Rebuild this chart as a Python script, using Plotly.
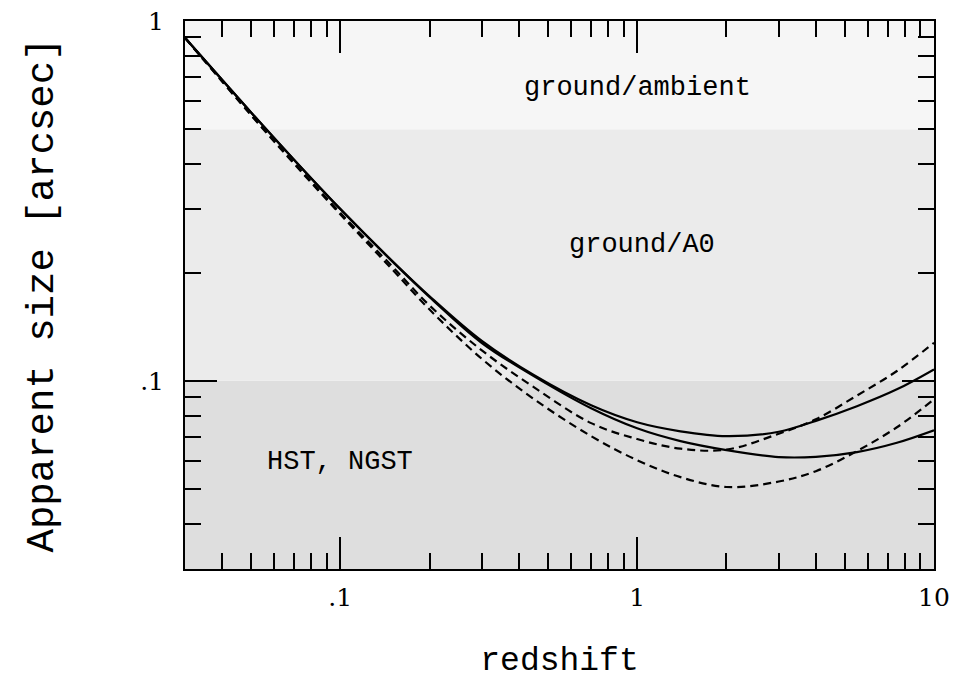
import numpy as np
import plotly.graph_objects as go

# ---------------- data ----------------
redshift = [0.03, 0.05, 0.07, 0.1, 0.15, 0.2, 0.3, 0.45, 0.7, 1.0,
            1.4, 2.0, 3.0, 4.0, 5.5, 7.5, 10.0]
solid_upper = [0.898, 0.558, 0.411, 0.3007, 0.2150, 0.1718, 0.1291, 0.1036, 0.0855,
               0.0767, 0.0724, 0.0702, 0.0722, 0.0774, 0.0850, 0.0947, 0.1076]
solid_lower = [0.898, 0.558, 0.411, 0.3001, 0.2144, 0.1709, 0.1274, 0.1029, 0.0839,
               0.0738, 0.0680, 0.0642, 0.0614, 0.0615, 0.0634, 0.0673, 0.0729]
dashed_upper = [0.898, 0.550, 0.4033, 0.2931, 0.2077, 0.1619, 0.1215, 0.0959, 0.0763,
                0.0689, 0.0648, 0.0644, 0.0713, 0.0782, 0.0910, 0.1065, 0.1276]
dashed_lower = [0.898, 0.548, 0.4007, 0.2903, 0.2037, 0.1578, 0.1151, 0.0889, 0.0702,
                0.0602, 0.0540, 0.0507, 0.0525, 0.0561, 0.0638, 0.0743, 0.0889]

band_edges = [0.03, 0.1, 0.5, 1.0]          # arcsec
band_labels = ["HST, NGST", "ground/A0", "ground/ambient"]
x_range = [0.03, 10.0]
x_tick_vals = [0.1, 1, 10]
x_tick_text = [".1", "1", "10"]
y_tick_vals = [0.1, 1]
y_tick_text = [".1", "1"]
x_minor = [0.04, 0.05, 0.06, 0.07, 0.08, 0.09, 0.2, 0.3, 0.4, 0.5, 0.6, 0.7,
           0.8, 0.9, 2, 3, 4, 5, 6, 7, 8, 9]
y_minor = [0.04, 0.05, 0.06, 0.07, 0.08, 0.09, 0.2, 0.3, 0.4, 0.5, 0.6, 0.7,
           0.8, 0.9]

# ---------------- figure ----------------
fig = go.Figure()

band_colors = ["#dedede", "#ebebeb", "#f6f6f6"]
for i in range(3):
    lo, hi = band_edges[i], band_edges[i + 1]
    fig.add_trace(go.Scatter(
        x=[x_range[0], x_range[1], x_range[1], x_range[0], x_range[0]],
        y=[lo, lo, hi, hi, lo],
        fill="toself", fillcolor=band_colors[i], mode="lines",
        line=dict(width=0, color=band_colors[i]),
        hoverinfo="skip", showlegend=False))

for ys, dash in [(solid_upper, "solid"), (solid_lower, "solid"),
                 (dashed_upper, "8px,5px"), (dashed_lower, "8px,5px")]:
    fig.add_trace(go.Scatter(
        x=redshift, y=ys, mode="lines",
        line=dict(color="black", width=2.2, dash=dash, shape="spline", smoothing=1.0),
        showlegend=False))

label_pos = [(0.207, 0.196), (0.610, 0.591), (0.6035, 0.877)]
for text, (px, py) in zip(band_labels, label_pos):
    fig.add_annotation(x=px, y=py, xref="paper", yref="paper", text=text,
                       showarrow=False, xanchor="center", yanchor="middle",
                       font=dict(family="Liberation Mono", size=27, color="black"))

axis_common = dict(
    type="log", showgrid=False, zeroline=False,
    showline=True, linecolor="black", linewidth=2, mirror="allticks",
    ticks="inside", ticklen=32, tickwidth=2, tickcolor="black",
    tickfont=dict(family="DejaVu Serif", size=25, color="black"),
)

fig.update_xaxes(
    **axis_common,
    range=[np.log10(x_range[0]), np.log10(x_range[1])],
    tickvals=x_tick_vals, ticktext=x_tick_text,
    minor=dict(tickvals=x_minor, ticks="inside", ticklen=16, tickwidth=2,
               tickcolor="black", showgrid=False),
    title=dict(text="redshift", standoff=36,
               font=dict(family="Liberation Mono", size=33, color="black")),
    ticklabelstandoff=5,
)
fig.update_yaxes(
    **axis_common,
    range=[np.log10(band_edges[0]), np.log10(band_edges[-1])],
    tickvals=y_tick_vals, ticktext=y_tick_text,
    minor=dict(tickvals=y_minor, ticks="inside", ticklen=16, tickwidth=2,
               tickcolor="black", showgrid=False),
    title=dict(text="Apparent size [arcsec]", standoff=74,
               font=dict(family="Liberation Mono", size=39, color="black")),
    ticklabelstandoff=14,
)

fig.update_layout(
    width=955, height=683,
    margin=dict(l=185, r=21, t=21, b=114, autoexpand=False),
    paper_bgcolor="white", plot_bgcolor="white",
    showlegend=False,
)

fig.write_html("out.html")
